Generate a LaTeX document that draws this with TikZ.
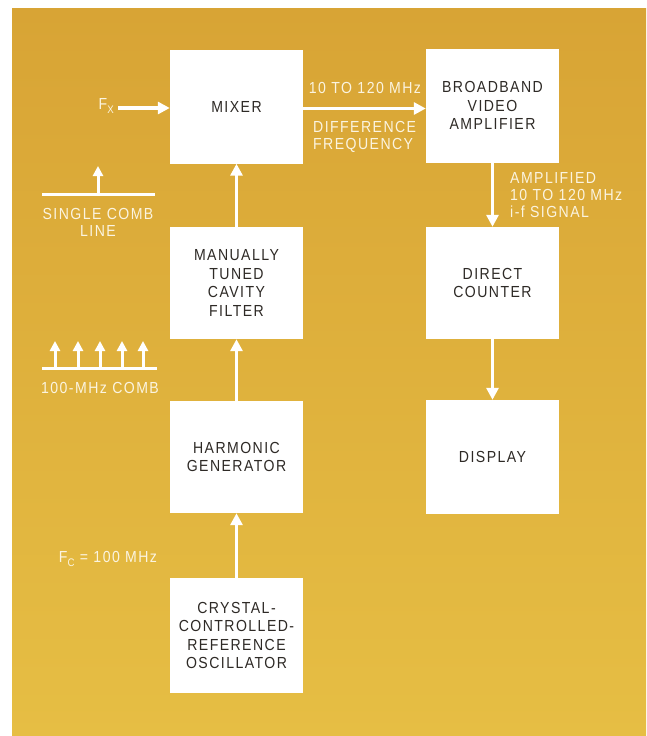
\documentclass[tikz,border=0pt]{standalone}
\usepackage{fontspec}
\setmainfont{Liberation Sans}[LetterSpace=9,FakeStretch=0.88]
\usepackage{tikz}
\usetikzlibrary{arrows.meta,positioning,calc}
\definecolor{goldtop}{HTML}{D8A435}
\definecolor{goldbot}{HTML}{E6BE44}
\definecolor{inkdark}{HTML}{2E2A26}
\definecolor{cream}{HTML}{FBF4E0}

\begin{document}
\begin{tikzpicture}[x=1pt,y=-1pt,
    block/.style={fill=white,minimum width=133pt,minimum height=114pt,inner sep=0pt,
      align=center,text=inkdark,font=\fontsize{16}{18.5}\selectfont},
    note/.style={text=cream,inner sep=0pt,font=\fontsize{16}{17}\selectfont},
    flow/.style={-{Triangle[length=12pt,width=12pt]},white,line width=3.5pt},
    tick/.style={-{Triangle[length=10pt,width=10pt]},white,line width=3pt}]
    \useasboundingbox (0,0) rectangle (646,736);
    % Gold page
    \shade[top color=goldtop,bottom color=goldbot] (12,8) rectangle (646,736);

    % Blocks
    \node[block] (mixer) at (236.5,106.5) {MIXER};
    \node[block] (video) at (492.5,105.5) {BROADBAND\\VIDEO\\AMPLIFIER};
    \node[block,minimum height=112pt] (filter) at (236.5,283) {MANUALLY\\TUNED\\CAVITY\\FILTER};
    \node[block,minimum height=112pt] (counter) at (492.5,283) {DIRECT\\COUNTER};
    \node[block,minimum height=112pt] (harmonic) at (236.5,457) {HARMONIC\\GENERATOR};
    \node[block] (display) at (492.5,457) {DISPLAY};
    \node[block,minimum height=115pt] (crystal) at (236.5,635.5) {CRYSTAL-\\CONTROLLED-\\REFERENCE\\OSCILLATOR};

    % Signal flow
    \node[note,anchor=east] (fx) at (114,106) {F\raisebox{-4pt}{\fontsize{11}{11}\selectfont X}};
    \draw[flow] ($(fx.east)+(4,2)$) -- ($(fx.east -| mixer.west)+(0,2)$);
    \draw[flow] ($(mixer.east)+(0,2)$) -- ($(mixer.east -| video.west)+(0,2)$);
    \draw[flow] (crystal) -- (harmonic);
    \draw[flow] (harmonic) -- (filter);
    \draw[flow] (filter) -- (mixer);
    \draw[flow] (video) -- (counter);
    \draw[flow] (counter) -- (display);

    % Labels
    \node[note] (band) at (365,88) {10 TO 120 MHz};
    \node[note,anchor=west,align=left] (diff) at (313,137) {DIFFERENCE\\FREQUENCY};
    \node[note,anchor=west,align=left] (ampl) at (510,195) {AMPLIFIED\\10 TO 120 MHz\\i-f SIGNAL};
    \node[note] (fc) at (108,559) {F\raisebox{-4pt}{\fontsize{11}{11}\selectfont C} = 100 MHz};

    % Single comb line
    \draw[white,line width=3pt] (42,194) -- (155,194);
    \draw[tick] (98,194) -- (98,166);
    \node[note,align=center] (single) at (98,222) {SINGLE COMB\\LINE};

    % 100-MHz comb
    \draw[white,line width=3pt] (42,368) -- (157,368);
    \foreach \x in {55,78,100,122,143}
      \draw[tick] (\x,368) -- (\x,341);
    \node[note] (comb) at (100,388) {100-MHz COMB};
\end{tikzpicture}
\end{document}
